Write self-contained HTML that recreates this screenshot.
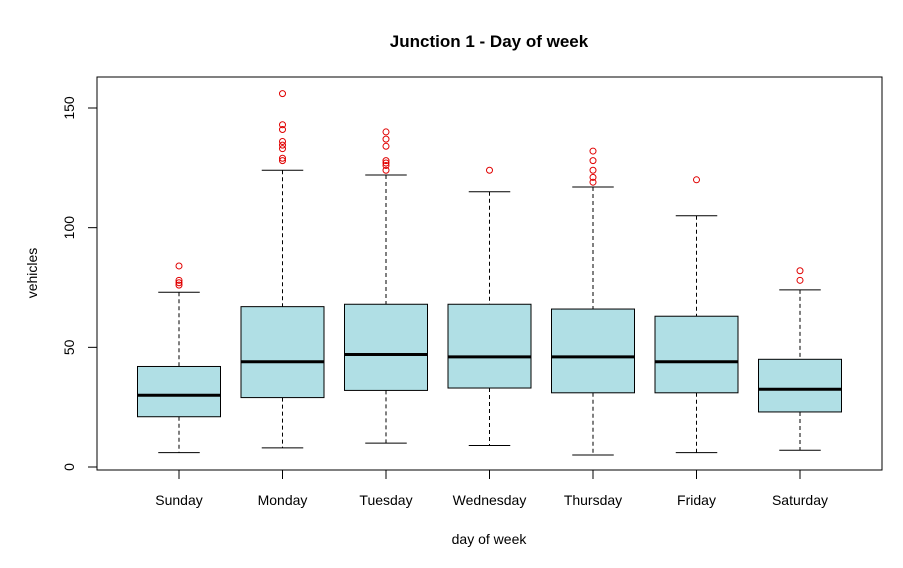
<!DOCTYPE html>
<html><head><meta charset="utf-8"><style>
html,body{margin:0;padding:0;background:#fff;}
svg{display:block;font-family:"Liberation Sans",Arial,sans-serif;}
</style></head><body>
<svg id="chart" width="903" height="568">
<text x="489" y="47" text-anchor="middle" font-size="17" font-weight="bold">Junction 1 - Day of week</text>
<text x="489" y="544" text-anchor="middle" font-size="14">day of week</text>
<text transform="translate(37,273) rotate(-90)" text-anchor="middle" font-size="14">vehicles</text>
<rect x="97" y="77" width="785" height="393" fill="none" stroke="#000"/>
<g id="marks"></g>
</svg>
<script>
const categories=["Sunday","Monday","Tuesday","Wednesday","Thursday","Friday","Saturday"];
const lowWhisker=[6,8,10,9,5,6,7];
const q1=[21,29,32,33,31,31,23];
const medians=[30,44,47,46,46,44,32.5];
const q3=[42,67,68,68,66,63,45];
const highWhisker=[73,124,122,115,117,105,74];
const outliers=[[84,78,77,76],[156,143,141,136,134.5,133,129,128],[140,137,134,128,127,126,124],[124],[132,128,124,121,119],[120],[82,78]];
const yTicks=[0,50,100,150];
const NS="http://www.w3.org/2000/svg";
const g=document.getElementById("marks");
const yScale=v=>467-v*(359/150);
const xScale=i=>179+i*103.5;
const hw=41.5;
function mk(tag,attrs,parent){const e=document.createElementNS(NS,tag);for(const k in attrs)e.setAttribute(k,attrs[k]);(parent||g).appendChild(e);return e;}
yTicks.forEach(t=>{
  const l=mk("line",{x1:88,x2:97,y1:yScale(t),y2:yScale(t),stroke:"#000"});
  
  
  const tx=mk("text",{transform:`translate(74,${yScale(t)}) rotate(-90)`,"text-anchor":"middle","font-size":"14"});
  tx.textContent=t;
  
  
});
categories.forEach((c,i)=>{
  const x=xScale(i);
  const tk=mk("line",{x1:x,x2:x,y1:470,y2:479,stroke:"#000"});
  
  
  const tx=mk("text",{x:x,y:505,"text-anchor":"middle","font-size":"14"});
  tx.textContent=c;
  
  
  const grp=mk("g",{});
  
  
  mk("line",{x1:x,x2:x,y1:yScale(highWhisker[i]),y2:yScale(q3[i]),stroke:"#000","stroke-dasharray":"4,3"},grp);
  mk("line",{x1:x,x2:x,y1:yScale(q1[i]),y2:yScale(lowWhisker[i]),stroke:"#000","stroke-dasharray":"4,3"},grp);
  mk("line",{x1:x-hw/2,x2:x+hw/2,y1:yScale(highWhisker[i]),y2:yScale(highWhisker[i]),stroke:"#000"},grp);
  mk("line",{x1:x-hw/2,x2:x+hw/2,y1:yScale(lowWhisker[i]),y2:yScale(lowWhisker[i]),stroke:"#000"},grp);
  mk("rect",{x:x-hw,y:yScale(q3[i]),width:hw*2,height:yScale(q1[i])-yScale(q3[i]),fill:"#b0dfe5",stroke:"#000"},grp);
  mk("line",{x1:x-hw,x2:x+hw,y1:yScale(medians[i]),y2:yScale(medians[i]),stroke:"#000","stroke-width":3},grp);
  outliers[i].forEach(v=>{
    const c2=mk("circle",{cx:x,cy:yScale(v),r:3,fill:"none",stroke:"#e00000"},grp);
    
    
  });
});
</script>
</body></html>
